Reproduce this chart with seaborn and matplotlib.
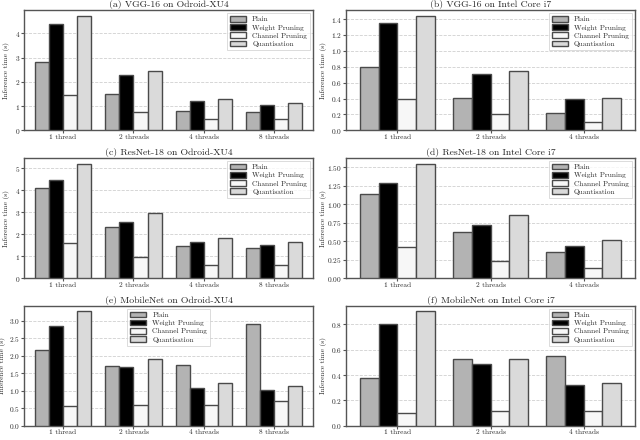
import numpy as np
import pandas as pd
import matplotlib
matplotlib.use("Agg")
import matplotlib.pyplot as plt
from matplotlib.ticker import MultipleLocator
import seaborn as sns

# DATA
methods = ["Plain", "Weight Pruning", "Channel Pruning", "Quantisation"]
threads_odroid = ["1 thread", "2 threads", "4 threads", "8 threads"]
threads_intel = ["1 thread", "2 threads", "4 threads"]

vgg_odroid = {
    "Plain": [2.83, 1.48, 0.80, 0.75],
    "Weight Pruning": [4.40, 2.27, 1.20, 1.05],
    "Channel Pruning": [1.44, 0.77, 0.45, 0.45],
    "Quantisation": [4.72, 2.43, 1.28, 1.11],
}
vgg_intel = {
    "Plain": [0.80, 0.41, 0.22],
    "Weight Pruning": [1.35, 0.71, 0.39],
    "Channel Pruning": [0.39, 0.21, 0.11],
    "Quantisation": [1.44, 0.75, 0.41],
}
resnet_odroid = {
    "Plain": [4.13, 2.35, 1.48, 1.38],
    "Weight Pruning": [4.48, 2.57, 1.63, 1.49],
    "Channel Pruning": [1.60, 0.95, 0.62, 0.59],
    "Quantisation": [5.22, 2.95, 1.82, 1.65],
}
resnet_intel = {
    "Plain": [1.14, 0.62, 0.36],
    "Weight Pruning": [1.29, 0.72, 0.44],
    "Channel Pruning": [0.42, 0.23, 0.14],
    "Quantisation": [1.55, 0.85, 0.51],
}
mobilenet_odroid = {
    "Plain": [2.16, 1.72, 1.75, 2.90],
    "Weight Pruning": [2.86, 1.67, 1.09, 1.03],
    "Channel Pruning": [0.57, 0.61, 0.60, 0.70],
    "Quantisation": [3.27, 1.90, 1.22, 1.14],
}
mobilenet_intel = {
    "Plain": [0.38, 0.53, 0.55],
    "Weight Pruning": [0.80, 0.49, 0.32],
    "Channel Pruning": [0.10, 0.12, 0.12],
    "Quantisation": [0.90, 0.53, 0.34],
}

# title, x categories, values, legend position, y tick step
panels = [
    ("(a) VGG-16 on Odroid-XU4", threads_odroid, vgg_odroid, "upper right", 1),
    ("(b) VGG-16 on Intel Core i7", threads_intel, vgg_intel, "upper right", 0.2),
    ("(c) ResNet-18 on Odroid-XU4", threads_odroid, resnet_odroid, "upper right", 1),
    ("(d) ResNet-18 on Intel Core i7", threads_intel, resnet_intel, "upper right", 0.25),
    ("(e) MobileNet on Odroid-XU4", threads_odroid, mobilenet_odroid, "upper center", 0.5),
    ("(f) MobileNet on Intel Core i7", threads_intel, mobilenet_intel, "upper right", 0.2),
]

colors = ["#b3b3b3", "#000000", "#f7f7f7", "#dadada"]

sns.set_style("whitegrid", {"grid.linestyle": "--", "grid.color": "#d0d0d0",
                            "axes.edgecolor": "#555555"})
plt.rcParams["font.family"] = ["cmr10", "DejaVu Serif"]
plt.rcParams["axes.formatter.use_mathtext"] = True
plt.rcParams["mathtext.fontset"] = "cm"

fig, axes = plt.subplots(3, 2, figsize=(6.4, 4.4), dpi=100)
fig.subplots_adjust(left=0.038, right=0.992, top=0.977, bottom=0.032,
                    hspace=0.23, wspace=0.115)

for i, (ax, (title, threads, data, loc, step)) in enumerate(zip(axes.flat, panels)):
    rows = []
    for m in methods:
        for t, v in zip(threads, data[m]):
            rows.append({"threads": t, "method": m, "time": v})
    df = pd.DataFrame(rows)

    sns.barplot(data=df, x="threads", y="time", hue="method",
                hue_order=methods, order=threads, palette=colors,
                edgecolor="#4a4a4a", linewidth=1.0, saturation=1,
                ax=ax, width=0.8)
    for patch in ax.patches:
        patch.set_zorder(3)

    ax.set_title(title, fontsize=7, pad=2)
    ax.set_xlabel("")
    ax.set_ylabel("Inference time (s)", fontsize=5.3)
    if i % 2 == 0:
        ax.yaxis.set_label_coords(-0.062 if step < 1 else -0.048, 0.5)
    else:
        ax.yaxis.set_label_coords(-0.068, 0.5)
    ax.tick_params(axis="both", labelsize=5.3, length=2, pad=1.0,
                   color="#555555")
    ax.tick_params(axis="x", bottom=True, pad=0.6)
    ax.tick_params(axis="y", left=True)
    ax.grid(axis="x", visible=False)
    ax.grid(axis="y", linewidth=0.6)
    ax.set_axisbelow(True)
    for s in ax.spines.values():
        s.set_linewidth(1.0)
    ax.set_xlim(-0.55, len(threads) - 0.45)
    top = max(max(v) for v in data.values())
    ax.set_ylim(0, top * 1.05)
    ax.yaxis.set_major_locator(MultipleLocator(step))

    leg = ax.legend(loc=loc, fontsize=5.3, frameon=True, fancybox=False,
                    handlelength=2.2, handleheight=0.8, borderpad=0.4,
                    labelspacing=0.25, handletextpad=0.8, borderaxespad=0.4)
    leg.get_frame().set_edgecolor("#cccccc")
    leg.get_frame().set_linewidth(0.6)

plt.savefig("out.png", dpi=100)
